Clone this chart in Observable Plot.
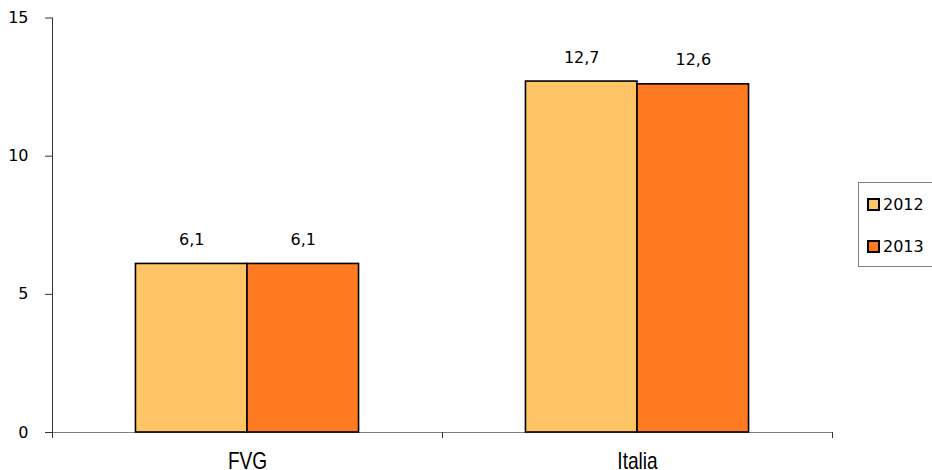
<!DOCTYPE html>
<html>
<head>
<meta charset="utf-8">
<script src="https://cdn.jsdelivr.net/npm/d3@7"></script>
<script src="https://cdn.jsdelivr.net/npm/@observablehq/plot@0.6"></script>
<style>
  html, body { margin: 0; padding: 0; background: #fff; }
  #wrap { position: relative; width: 932px; height: 470px; overflow: hidden; }
  #legend { position: absolute; left: 858px; top: 182px; width: 90px; height: 85px;
    border: 1px solid #808080; box-sizing: border-box; background: #fff;
    font-family: "DejaVu Sans", sans-serif; font-size: 16px; color: #000; }
  .item { position: absolute; left: 8px; display: flex; align-items: center; }
  .sw { width: 9px; height: 9px; border: 2px solid #000; margin-right: 3px; }
</style>
</head>
<body>
<div id="wrap">
  <div id="chart"></div>
  <div id="legend"></div>
</div>
<script>
const categories = ["FVG", "Italia"];
const years = ["2012", "2013"];
const values2012 = [6.1, 12.7];
const values2013 = [6.1, 12.6];
const yTicks = [0, 5, 10, 15];
const colors = ["#FFC466", "#FF7A21"];

const series = [values2012, values2013];
const halfWidth = 0.286;
const data = [];
categories.forEach((c, i) => {
  years.forEach((y, j) => {
    const x1 = i + 0.5 + (j - 1) * halfWidth;
    data.push({cat: c, year: y, value: series[j][i], x1, x2: x1 + halfWidth, xc: x1 + halfWidth / 2});
  });
});

const fmt = v => v.toFixed(1).replace(".", ",");

const chart = Plot.plot({
  width: 932,
  height: 470,
  marginLeft: 52,
  marginRight: 100,
  marginTop: 17.5,
  marginBottom: 38,
  style: {fontFamily: "DejaVu Sans, sans-serif", fontSize: "16px", color: "#000", background: "#fff"},
  x: {domain: [0, categories.length], axis: null},
  y: {domain: [0, 15], axis: null},
  color: {domain: years, range: colors},
  marks: [
    Plot.ruleY([0], {stroke: "#808080", strokeWidth: 1.2}),
    Plot.axisY({ticks: yTicks, tickSize: 7, tickPadding: 17, fontSize: 16, stroke: "#333", label: null, tickFormat: d => String(d)}),
    Plot.ruleX([0], {y1: 0, y2: 15, stroke: "#333", strokeWidth: 1}),
    Plot.axisX({ticks: d3.range(categories.length + 1), tickSize: 6, tickFormat: () => "", stroke: "#333", label: null}),
    Plot.axisX({ticks: categories.map((c, i) => i + 0.5), tickSize: 0, tickPadding: 20, label: null,
      tickFormat: d => categories[Math.floor(d)], fontSize: 23, fontFamily: "Liberation Sans, sans-serif"}),
    Plot.rectY(data, {x1: "x1", x2: "x2", y1: 0, y2: "value", fill: "year", stroke: "#000", strokeWidth: 1.6}),
    Plot.text(data, {x: "xc", y: "value", text: d => fmt(d.value), dy: -24, fontSize: 16, fill: "#000"})
  ]
});
// make the category labels narrow, like the reference's condensed face
chart.querySelectorAll("text").forEach(t => {
  if (categories.includes(t.textContent)) {
    const tr = t.getAttribute("transform") || "";
    t.setAttribute("transform", tr + " scale(0.83,1)");
  }
});
document.getElementById("chart").appendChild(chart);

const legend = document.getElementById("legend");
years.forEach((y, j) => {
  const item = document.createElement("div");
  item.className = "item";
  item.style.top = (12 + j * 42) + "px";
  const sw = document.createElement("div");
  sw.className = "sw";
  sw.style.background = colors[j];
  const t = document.createElement("span");
  t.textContent = y;
  item.appendChild(sw);
  item.appendChild(t);
  legend.appendChild(item);
});
</script>
</body>
</html>
